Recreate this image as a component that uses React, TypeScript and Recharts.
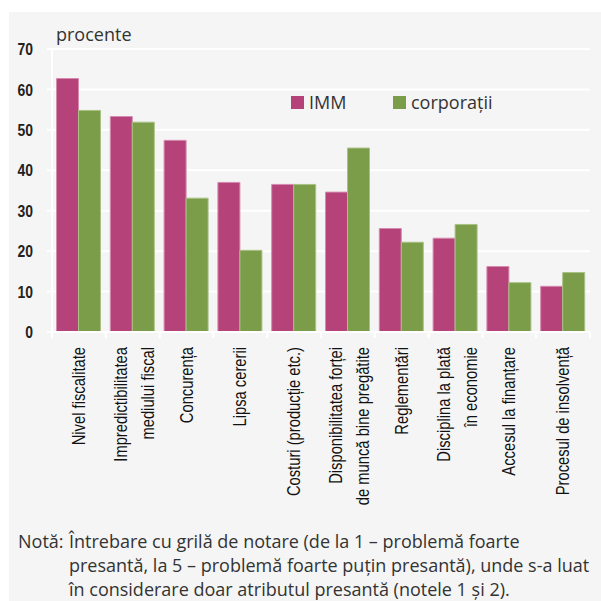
import { Bar, BarChart, CartesianGrid, XAxis, YAxis } from "recharts";

const categories = [
  "Nivel fiscalitate",
  "Impredictibilitatea\nmediului fiscal",
  "Concurența",
  "Lipsa cererii",
  "Costuri (producție etc.)",
  "Disponibilitatea forței\nde muncă bine pregătite",
  "Reglementări",
  "Disciplina la plată\nîn economie",
  "Accesul la finanțare",
  "Procesul de insolvență",
];

const immValues = [62.7, 53.3, 47.4, 37.0, 36.5, 34.6, 25.6, 23.2, 16.2, 11.3];
const corpValues = [54.8, 51.9, 33.1, 20.2, 36.5, 45.5, 22.2, 26.6, 12.2, 14.7];

const yTicks = [0, 10, 20, 30, 40, 50, 60, 70];

const noteLines = [
  "Întrebare cu grilă de notare (de la 1 – problemă foarte",
  "presantă, la 5 – problemă foarte puțin presantă), unde s-a luat",
  "în considerare doar atributul presantă  (notele 1 și 2).",
];

const IMM_FILL = "#b5437a";
const CORP_FILL = "#7b9c49";
const PANEL_BG = "#f5f5f5";
// Liberation Sans squeezed horizontally stands in for a condensed face
const NARROW = "'Liberation Sans', Arial, sans-serif";
const SQUEEZE = 0.82;
const LIGHT = "'Open Sans', 'Noto Sans', sans-serif";

const chartData = categories.map((name, i) => ({
  name,
  imm: immValues[i],
  corp: corpValues[i],
}));

const BAND_HALF = 26.9;

function CategoryTick(props: any) {
  const { x, y, payload } = props;
  const lines = String(payload.value).split("\n");
  const offsets = lines.length === 1 ? [6] : [-6, 21];
  return (
    <g>
      <line x1={x - BAND_HALF} x2={x - BAND_HALF} y1={y - 15} y2={y - 9} stroke="#fff" strokeWidth={2} />
      <line x1={x + BAND_HALF} x2={x + BAND_HALF} y1={y - 15} y2={y - 9} stroke="#fff" strokeWidth={2} />
      {lines.map((line, i) => (
        <text
          key={i}
          transform={`translate(${x + offsets[i]},${y}) rotate(-90) scale(${SQUEEZE},1)`}
          textAnchor="end"
          fontFamily={NARROW}
          fontSize={18}
          fill="#111"
        >
          {line}
        </text>
      ))}
    </g>
  );
}

function ValueTick(props: any) {
  const { x, y, payload } = props;
  return (
    <text
      transform={`translate(${x},${y}) scale(${SQUEEZE},1)`}
      textAnchor="end"
      dy="0.36em"
      fontFamily={NARROW}
      fontWeight={700}
      fontSize={17}
      fill="#222"
    >
      {payload.value}
    </text>
  );
}

function LegendItem({ color, label, width }: { color: string; label: string; width?: number }) {
  return (
    <div style={{ display: "flex", alignItems: "center", width }}>
      <span style={{ width: 13, height: 13, background: color, marginRight: 5, display: "inline-block" }} />
      <span style={{ fontFamily: LIGHT, fontSize: 18, color: "#333", lineHeight: "24px" }}>{label}</span>
    </div>
  );
}

export default function App() {
  return (
    <div
      style={{
        position: "absolute",
        left: 9,
        top: 12,
        width: 592,
        height: 589,
        background: PANEL_BG,
        overflow: "hidden",
      }}
    >
      <div
        style={{
          position: "absolute",
          left: 47,
          top: 10,
          fontFamily: LIGHT,
          fontSize: 18,
          color: "#333",
        }}
      >
        procente
      </div>
      <BarChart
        width={592}
        height={520}
        data={chartData}
        margin={{ top: 37, right: 11, bottom: 0, left: 0 }}
        barCategoryGap={4.5}
        barGap={0}
      >
        <CartesianGrid vertical={false} stroke="#fff" strokeWidth={2} />
        <XAxis
          dataKey="name"
          interval={0}
          height={200}
          axisLine={{ stroke: "#fff", strokeWidth: 2 }}
          tickLine={false}
          tickSize={6}
          tickMargin={9}
          tick={<CategoryTick />}
        />
        <YAxis
          width={43}
          domain={[0, 70]}
          ticks={yTicks}
          interval={0}
          axisLine={{ stroke: "#fff", strokeWidth: 2 }}
          tickLine={{ stroke: "#fff", strokeWidth: 2 }}
          tickSize={5}
          tickMargin={14}
          tick={<ValueTick />}
        />
        <Bar
          dataKey="imm"
          name="IMM"
          fill={IMM_FILL}
          stroke="#d58aae"
          strokeWidth={1}
          isAnimationActive={false}
        />
        <Bar
          dataKey="corp"
          name="corporații"
          fill={CORP_FILL}
          stroke="#a9c184"
          strokeWidth={1}
          isAnimationActive={false}
        />
      </BarChart>
      <div style={{ position: "absolute", left: 282, top: 78, display: "flex", alignItems: "center" }}>
        <LegendItem color={IMM_FILL} label="IMM" width={102} />
        <LegendItem color={CORP_FILL} label="corporații" />
      </div>
      <div
        style={{
          position: "absolute",
          left: 9,
          top: 517,
          display: "flex",
          fontFamily: LIGHT,
          fontSize: 18,
          lineHeight: "24px",
          color: "#333",
          whiteSpace: "nowrap",
        }}
      >
        <div style={{ width: 51 }}>Notă:</div>
        <div>
          {noteLines.map((l, i) => (
            <div key={i}>{l}</div>
          ))}
        </div>
      </div>
    </div>
  );
}
